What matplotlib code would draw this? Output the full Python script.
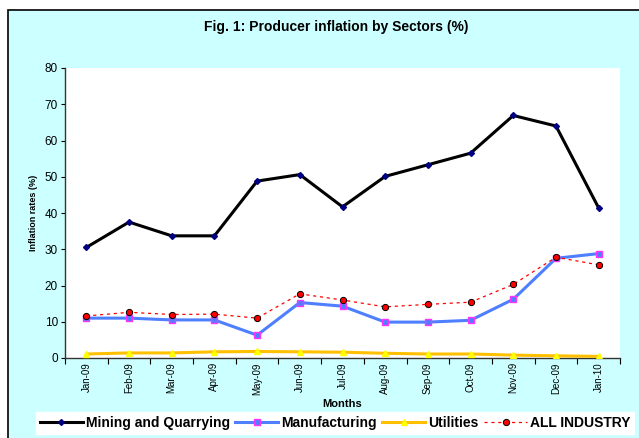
import numpy as np
import matplotlib.pyplot as plt
from matplotlib.patches import Rectangle

plt.rcParams['font.family'] = ['Liberation Sans', 'DejaVu Sans']

months = ['Jan-09', 'Feb-09', 'Mar-09', 'Apr-09', 'May-09', 'Jun-09', 'Jul-09',
          'Aug-09', 'Sep-09', 'Oct-09', 'Nov-09', 'Dec-09', 'Jan-10']
mining = [30.5, 37.5, 33.7, 33.7, 48.8, 50.6, 41.7, 50.1, 53.3, 56.5, 66.9, 64.0, 41.4]
manufacturing = [11.0, 11.0, 10.5, 10.5, 6.3, 15.3, 14.3, 9.9, 9.9, 10.4, 16.2, 27.5, 28.8]
utilities = [1.1, 1.4, 1.4, 1.7, 1.8, 1.7, 1.6, 1.3, 1.1, 1.1, 0.8, 0.6, 0.45]
all_industry = [11.6, 12.6, 12.0, 12.1, 11.0, 17.7, 16.0, 14.1, 14.8, 15.4, 20.3, 27.8, 25.7]

fig = plt.figure(figsize=(6.39, 4.38), dpi=100)
fig.patch.set_facecolor('white')
# cyan chart area with black border
fig.patches.append(Rectangle((8/639, -0.02), 1.0, (438-10)/438 + 0.02, transform=fig.transFigure,
                             facecolor='#CCFFFF', edgecolor='black', linewidth=1.2, zorder=-5))

ax = fig.add_axes([65/639, (438-358)/438, 555/639, (358-68)/438])
ax.set_zorder(1)
ax.set_facecolor('white')
x = np.arange(len(months))

ax.plot(x, mining, color='black', lw=2.2, marker='D', ms=3, mfc='navy', mec='navy',
        label='Mining and Quarrying', zorder=4)
ax.plot(x, manufacturing, color='#4D7FFF', lw=2.2, marker='s', ms=5, mfc='#4D7FFF', mec='#FF33FF',
        mew=1, label='Manufacturing', zorder=3)
ax.plot(x, utilities, color='#FFC000', lw=2.2, marker='^', ms=5, mfc='yellow', mec='yellow',
        label='Utilities', zorder=3)
ax.plot(x, all_industry, color='red', lw=0.9, ls=(0, (2.5, 3)), marker='o', ms=4.5, mfc='red', mec='black',
        mew=0.7, label='ALL INDUSTRY', zorder=5)

ax.set_xlim(-0.5, len(months) - 0.5)
ax.set_ylim(0, 80)
ax.set_yticks(range(0, 81, 10))
ax.set_xticks(np.arange(-0.5, len(months), 1))
ax.set_xticklabels([])
ax.set_xticks(x, minor=True)
ax.set_xticklabels(months, minor=True, rotation=90, fontsize=7)
ax.tick_params(axis='x', which='minor', length=0, pad=3)
ax.tick_params(axis='x', which='major', length=4, direction='out')
ax.tick_params(axis='y', length=3, direction='out', labelsize=8.5, pad=2)

for s in ['top', 'right']:
    ax.spines[s].set_visible(False)
for s in ['left', 'bottom']:
    ax.spines[s].set_color('#333333')
    ax.spines[s].set_linewidth(1)

ax.set_ylabel('Inflation rates (%)', fontsize=6.5, fontweight='bold', labelpad=5)
ax.set_xlabel('Months', fontsize=8, fontweight='bold', labelpad=3)

fig.text(336/639, 1 - 27/438, 'Fig. 1: Producer inflation by Sectors (%)', ha='center', va='center',
         fontsize=10, fontweight='bold')

leg = fig.legend(loc='center', bbox_to_anchor=(335/639, 1 - 423/438), ncol=4, frameon=True,
                 fancybox=False, handlelength=3.1, columnspacing=0.4, handletextpad=0.2,
                 borderpad=0.3, prop={'size': 10, 'weight': 'bold'})
leg.get_frame().set_facecolor('white')
leg.get_frame().set_edgecolor('white')
leg.get_frame().set_alpha(1)

fig.savefig('out.png', dpi=100)
